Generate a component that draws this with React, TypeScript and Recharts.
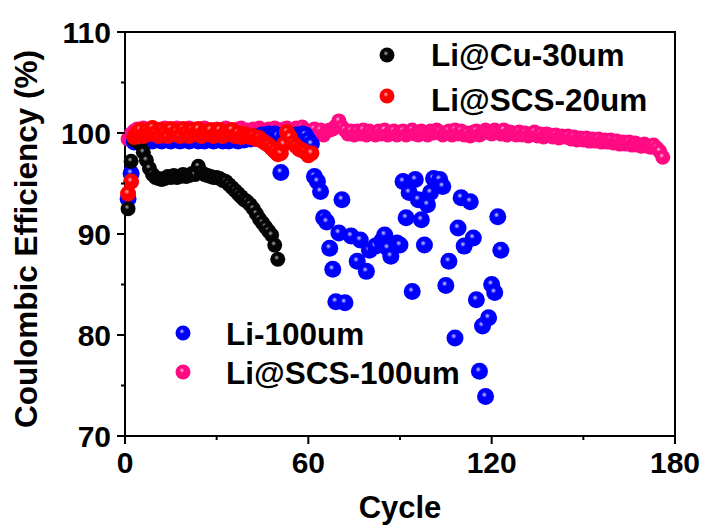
import React from "react";
import { ScatterChart, Scatter, XAxis, YAxis, ReferenceArea, Legend, Label } from "recharts";

// Li@Cu-30um, cycles 1..50
const cuCE = [
  92.5, 97.2, 99.3, 99.4, 98.9, 98.1, 97.3, 96.5, 95.9, 95.6,
  95.5, 95.4, 95.5, 95.7, 95.6, 95.8, 95.6, 95.7, 95.9, 95.7,
  95.8, 96.0, 95.9, 96.7, 96.1, 95.9, 95.8, 95.7, 95.6, 95.6,
  95.5, 95.3, 95.2, 94.9, 94.6, 94.3, 94.0, 93.7, 93.4, 93.2,
  92.9, 92.5, 92.0, 91.5, 91.1, 90.7, 90.3, 89.9, 88.9, 87.5,
];

// Li@SCS-20um, cycles 1..61
const scs20CE = [
  94.0, 95.2, 99.6, 100.0, 100.3, 99.7, 100.2, 99.9, 100.5, 100.0,
  99.7, 100.3, 100.0, 99.7, 100.4, 99.9, 100.1, 99.7, 100.4, 100.0,
  99.7, 100.3, 99.9, 100.4, 99.7, 100.1, 99.9, 100.3, 99.7, 100.0,
  100.3, 99.7, 100.1, 99.9, 100.3, 99.7, 100.0, 99.6, 99.9, 99.7,
  99.6, 99.7, 99.4, 99.5, 99.2, 99.0, 98.8, 98.5, 98.2, 97.9,
  98.0, 98.9, 100.1, 99.6, 99.0, 98.7, 98.4, 98.3, 98.1, 97.8, 98.0,
];

// Li-100um, cycles 1..61 (dense part)
const li100EarlyCE = [
  93.5, 96.0, 99.1, 99.3, 99.4, 99.2, 99.4, 99.3, 99.2, 99.4,
  99.3, 99.2, 99.4, 99.3, 99.2, 99.4, 99.3, 99.2, 99.3, 99.4,
  99.2, 99.3, 99.4, 99.2, 99.3, 99.2, 99.4, 99.3, 99.2, 99.3,
  99.4, 99.2, 99.3, 99.2, 99.4, 99.3, 99.2, 99.4, 99.3, 99.5,
  99.4, 99.6, 99.5, 99.7, 99.8, 99.7, 99.9, 99.8, 99.9, 99.7,
  96.1, 99.6, 99.7, 99.8, 99.7, 99.8, 99.7, 99.9, 99.8, 99.3, 98.9,
];

// Li-100um, scattered part
const li100LateCycles = [
  62, 63, 64, 65, 66, 67, 68, 69, 70, 71, 72, 74, 76, 77, 79, 80, 82, 84,
  85, 86, 87, 89, 90, 91, 92, 93, 94, 95, 96, 97, 98, 99, 100, 101, 103,
  104, 105, 106, 108, 109, 110, 111, 113, 114, 115, 116, 117, 118, 119,
  120, 121, 122, 123,
];
const li100LateCE = [
  95.7, 95.2, 94.2, 91.6, 91.2, 88.6, 86.5, 83.3, 90.1, 93.4, 83.2, 89.8,
  87.3, 89.4, 86.3, 88.4, 88.8, 89.3, 89.9, 88.6, 87.8, 89.1, 88.9, 95.2,
  91.6, 94.1, 84.3, 95.4, 93.4, 91.4, 88.9, 92.9, 94.1, 95.5, 95.4, 94.7,
  84.9, 87.3, 79.7, 90.6, 93.6, 88.8, 93.2, 89.6, 83.5, 76.4, 80.9, 73.9,
  81.7, 85.0, 84.2, 91.7, 88.4,
];

// Li@SCS-100um, cycles 1..176
const scs100CE = [
  99.4, 99.9, 100.2, 100.4, 100.2, 100.5, 100.3, 100.2, 100.5, 100.3,
  100.2, 100.4, 100.5, 100.2, 100.3, 100.2, 100.5, 100.3, 100.2, 100.4,
  100.5, 100.2, 100.3, 100.2, 100.4, 100.5, 100.2, 100.3, 100.2, 100.4,
  100.2, 100.3, 100.5, 100.2, 100.3, 100.2, 100.4, 100.5, 100.2, 100.3,
  100.2, 100.4, 100.2, 100.5, 100.3, 100.2, 100.4, 100.2, 100.5, 100.3,
  100.2, 100.4, 100.5, 100.2, 100.3, 100.5, 100.3, 100.6, 100.3, 100.2,
  100.1, 100.4, 99.9, 100.3, 99.8, 100.2, 100.3, 100.4, 100.7, 101.2,
  100.6, 100.3, 99.9, 100.2, 99.8, 100.2, 99.9, 100.3, 99.8, 100.2,
  100.0, 99.8, 100.2, 99.9, 100.3, 99.8, 100.0, 100.2, 99.8, 100.1,
  100.2, 99.8, 100.0, 100.3, 99.9, 99.8, 100.2, 100.0, 99.8, 100.2,
  100.0, 100.3, 100.1, 99.8, 100.0, 100.2, 99.8, 100.3, 99.9, 100.2,
  99.8, 100.0, 99.7, 100.1, 100.2, 99.8, 100.0, 100.3, 100.1, 99.9,
  100.3, 100.1, 99.9, 100.3, 99.8, 100.1, 100.0, 99.8, 100.1, 99.8,
  100.0, 99.7, 99.9, 100.1, 99.7, 99.9, 99.6, 99.9, 99.8, 99.6,
  99.8, 99.5, 99.7, 99.6, 99.7, 99.4, 99.6, 99.3, 99.5, 99.3,
  99.5, 99.2, 99.4, 99.2, 99.4, 99.1, 99.3, 99.1, 99.3, 99.0,
  99.2, 98.9, 99.1, 98.9, 99.1, 98.8, 99.0, 98.8, 98.7, 98.9,
  98.7, 98.6, 98.8, 98.5, 98.2, 97.6,
];

const xTicks = [0, 30, 60, 90, 120, 150, 180];
const yTicks = [70, 75, 80, 85, 90, 95, 100, 105, 110];

const seq = (vals: number[]) => vals.map((y, i) => ({ x: i + 1, y }));
const cuData = seq(cuCE);
const scs20Data = seq(scs20CE);
const scs100Data = seq(scs100CE);
const li100Data = [
  ...seq(li100EarlyCE),
  ...li100LateCycles.map((x, i) => ({ x, y: li100LateCE[i] })),
];

const FONT = "'Liberation Sans', Arial, sans-serif";

const ball = (grad: string, r: number) => (p: any) =>
  <circle cx={p.cx} cy={p.cy} r={r} fill={`url(#${grad})`} />;

function XTick({ x, y, payload }: any) {
  const major = payload.value % 60 === 0;
  return (
    <g>
      <line x1={x} x2={x} y1={y} y2={y + (major ? 8 : 4)} stroke="#000" strokeWidth={2} />
      {major && (
        <text x={x} y={y + 37} textAnchor="middle" fontFamily={FONT} fontWeight="bold" fontSize={30} fill="#000">
          {payload.value}
        </text>
      )}
    </g>
  );
}

function YTick({ x, y, payload }: any) {
  const major = payload.value % 10 === 0;
  return (
    <g>
      <line x1={x} x2={x - (major ? 8 : 4)} y1={y} y2={y} stroke="#000" strokeWidth={2} />
      {major && (
        <text x={x - 14} y={y} dy="0.36em" textAnchor="end" fontFamily={FONT} fontWeight="bold" fontSize={30} fill="#000">
          {payload.value}
        </text>
      )}
    </g>
  );
}

const legendItems = [
  { name: "Li@Cu-30um", grad: "gBlack", cx: 387, cy: 55, tx: 431, ty: 66 },
  { name: "Li@SCS-20um", grad: "gRed", cx: 387, cy: 96, tx: 431, ty: 111 },
  { name: "Li-100um", grad: "gBlue", cx: 183, cy: 333, tx: 226, ty: 345 },
  { name: "Li@SCS-100um", grad: "gPink", cx: 183, cy: 372, tx: 226, ty: 384 },
];

function LegendBox() {
  return (
    <svg width={706} height={528} style={{ pointerEvents: "none" }}>
      {legendItems.map((it) => (
        <g key={it.name}>
          <circle cx={it.cx} cy={it.cy} r={7.5} fill={`url(#${it.grad})`} />
          <text x={it.tx} y={it.ty} fontFamily={FONT} fontWeight="bold" fontSize={31.5} fill="#000">
            {it.name}
          </text>
        </g>
      ))}
    </svg>
  );
}

function Grad({ id, hi, base }: { id: string; hi: string; base: string }) {
  return (
    <radialGradient id={id} cx="45%" cy="42%" r="60%" fx="42%" fy="38%">
      <stop offset="0%" stopColor={hi} />
      <stop offset="28%" stopColor={base} />
      <stop offset="100%" stopColor={base} />
    </radialGradient>
  );
}

export default function App() {
  return (
    <div style={{ position: "absolute", left: 0, top: 0, width: 706, height: 528, background: "#fff" }}>
      <ScatterChart width={706} height={528} margin={{ top: 32, right: 31, bottom: 0, left: 0 }}>
        <defs>
          <Grad id="gBlack" hi="#b4b4b4" base="#050505" />
          <Grad id="gRed" hi="#ffb8b8" base="#ff0000" />
          <Grad id="gBlue" hi="#d0d0ff" base="#0000ff" />
          <Grad id="gPink" hi="#ffc0e0" base="#ff0a82" />
        </defs>
        <XAxis
          type="number"
          dataKey="x"
          domain={[0, 180]}
          ticks={xTicks}
          interval={0}
          height={92}
          tickSize={0}
          tickMargin={0}
          tick={<XTick />}
          tickLine={false}
          axisLine={{ stroke: "#000", strokeWidth: 2 }}
        >
          <Label
            content={() => (
              <text x={400} y={518} textAnchor="middle" fontFamily={FONT} fontWeight="bold" fontSize={31} fill="#000">
                Cycle
              </text>
            )}
          />
        </XAxis>
        <YAxis
          type="number"
          dataKey="y"
          domain={[70, 110]}
          ticks={yTicks}
          interval={0}
          width={125}
          tickSize={0}
          tickMargin={0}
          tick={<YTick />}
          tickLine={false}
          axisLine={{ stroke: "#000", strokeWidth: 2 }}
        >
          <Label
            content={() => (
              <text
                x={26}
                y={239}
                transform="rotate(-90 26 239)"
                textAnchor="middle"
                dominantBaseline="central"
                fontFamily={FONT}
                fontWeight="bold"
                fontSize={31.5}
                fill="#000"
              >
                Coulombic Efficiency (%)
              </text>
            )}
          />
        </YAxis>
        <ReferenceArea x1={0} x2={180} y1={70} y2={110} fill="none" stroke="#000" strokeWidth={2} />
        <Scatter name="Li@SCS-100um" data={scs100Data} shape={ball("gPink", 7.5)} isAnimationActive={false} />
        <Scatter name="Li-100um" data={li100Data} shape={ball("gBlue", 8.5)} isAnimationActive={false} />
        <Scatter name="Li@Cu-30um" data={cuData} shape={ball("gBlack", 7.5)} isAnimationActive={false} />
        <Scatter name="Li@SCS-20um" data={scs20Data} shape={ball("gRed", 8)} isAnimationActive={false} />
        <Legend
          layout="horizontal"
          verticalAlign="middle"
          align="center"
          content={() => <LegendBox />}
          wrapperStyle={{ left: 0, top: 0, width: 706, height: 528 }}
        />
      </ScatterChart>
    </div>
  );
}
